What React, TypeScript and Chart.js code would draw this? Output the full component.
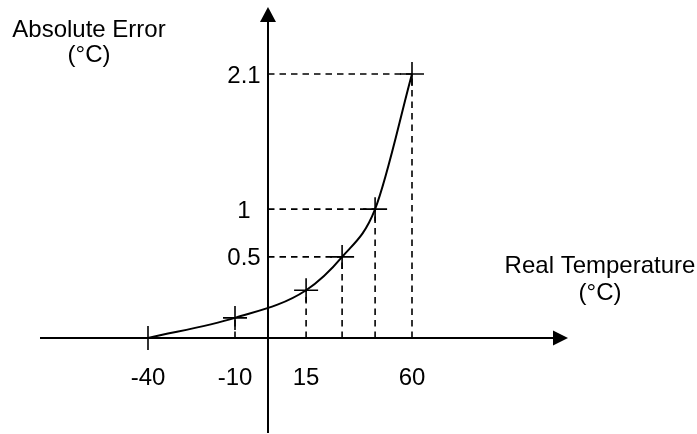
import { useEffect, useRef } from 'react';
import { Chart, registerables } from 'chart.js';

Chart.register(...registerables);

// Tick labels attached to each marked point (empty = unlabeled)
const xTickLabels = ['-40', '-10', '15', '', '', '60'];
const yTickLabels = ['', '', '', '0.5', '1', '2.1'];
// Schematic (not-to-scale) positions of the marked points along each axis
const pointX = [-40, -11, 12.7, 24.7, 35.7, 48];
const pointY = [0, 0.16, 0.38, 0.645, 1.025, 2.1];

const xTitle = ['Real Temperature', '(°C)'];
const yTitle = ['Absolute Error', '(°C)'];

const FONT = '24px "Liberation Sans", Arial, Helvetica, sans-serif';

const schematicPlugin = {
  id: 'schematicAxes',
  beforeDatasetsDraw(chart: any) {
    const { ctx, scales } = chart;
    const x = scales.x;
    const y = scales.y;
    const ox = x.getPixelForValue(0);
    const oy = y.getPixelForValue(0);
    ctx.save();
    ctx.strokeStyle = '#000';
    ctx.fillStyle = '#000';

    // dashed guide lines
    ctx.setLineDash([6.5, 5]);
    ctx.lineWidth = 1.6;
    pointX.forEach((v, i) => {
      const px = x.getPixelForValue(v);
      const py = y.getPixelForValue(pointY[i]);
      if (i > 0) {
        ctx.beginPath();
        ctx.moveTo(px, oy);
        ctx.lineTo(px, py);
        ctx.stroke();
      }
      if (yTickLabels[i]) {
        ctx.beginPath();
        ctx.moveTo(ox, py);
        ctx.lineTo(px, py);
        ctx.stroke();
      }
    });
    ctx.setLineDash([]);

    // axes with arrows
    ctx.lineWidth = 2;
    const xStart = x.getPixelForValue(-76);
    const xEnd = x.getPixelForValue(100);
    ctx.beginPath();
    ctx.moveTo(xStart, oy);
    ctx.lineTo(xEnd - 14, oy);
    ctx.stroke();
    ctx.beginPath();
    ctx.moveTo(xEnd, oy);
    ctx.lineTo(xEnd - 15, oy - 7.5);
    ctx.lineTo(xEnd - 15, oy + 7.5);
    ctx.closePath();
    ctx.fill();

    const yTop = y.getPixelForValue(2.633);
    const yBottom = chart.chartArea.bottom - 1;
    ctx.beginPath();
    ctx.moveTo(ox, yBottom);
    ctx.lineTo(ox, yTop + 14);
    ctx.stroke();
    ctx.beginPath();
    ctx.moveTo(ox, yTop);
    ctx.lineTo(ox - 8, yTop + 15);
    ctx.lineTo(ox + 8, yTop + 15);
    ctx.closePath();
    ctx.fill();
    ctx.restore();
  },
  afterDraw(chart: any) {
    const { ctx, scales } = chart;
    const x = scales.x;
    const y = scales.y;
    const ox = x.getPixelForValue(0);
    const oy = y.getPixelForValue(0);
    ctx.save();
    ctx.fillStyle = '#000';
    ctx.font = FONT;
    ctx.textAlign = 'center';
    ctx.textBaseline = 'alphabetic';
    pointX.forEach((v, i) => {
      if (xTickLabels[i]) {
        ctx.fillText(xTickLabels[i], x.getPixelForValue(v), oy + 47);
      }
      if (yTickLabels[i]) {
        ctx.fillText(yTickLabels[i], ox - 24, y.getPixelForValue(pointY[i]) + 8.5);
      }
    });
    // axis titles
    ctx.fillText(yTitle[0], ox - 179, 37);
    ctx.fillText(yTitle[1], ox - 179, 62);
    ctx.fillText(xTitle[0], ox + 332, oy - 65);
    ctx.fillText(xTitle[1], ox + 332, oy - 38);
    ctx.restore();
  },
};

export default function App() {
  const canvasRef = useRef<HTMLCanvasElement | null>(null);

  useEffect(() => {
    const canvas = canvasRef.current;
    if (!canvas) return;
    const chart = new Chart(canvas, {
      type: 'line',
      data: {
        datasets: [
          {
            data: pointX.map((v, i) => ({ x: v, y: pointY[i] })),
            borderColor: '#000',
            borderWidth: 2,
            cubicInterpolationMode: 'monotone',
            pointStyle: 'cross',
            pointRadius: 12,
            pointBorderWidth: 1.6,
            pointBorderColor: '#000',
            pointBackgroundColor: '#000',
            fill: false,
            clip: false,
          } as any,
        ],
      },
      options: {
        animation: false,
        responsive: false,
        maintainAspectRatio: false,
        events: [],
        layout: { padding: 0, autoPadding: false },
        plugins: {
          legend: { display: false },
          tooltip: { enabled: false },
          title: { display: false },
        },
        scales: {
          x: { type: 'linear', display: false, min: -89.333, max: 143 },
          y: { type: 'linear', display: false, min: -0.7637, max: 2.6889 },
        },
      },
      plugins: [schematicPlugin],
    });
    return () => chart.destroy();
  }, []);

  return (
    <div style={{ position: 'absolute', left: 0, top: 0, width: 697, height: 434, background: '#fff' }}>
      <canvas ref={canvasRef} width={697} height={434} style={{ display: 'block' }} />
    </div>
  );
}
